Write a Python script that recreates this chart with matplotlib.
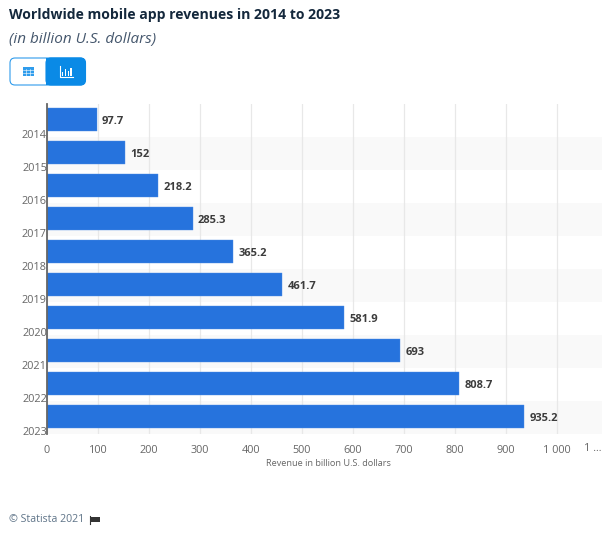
import matplotlib
matplotlib.use("Agg")
import matplotlib.pyplot as plt
from matplotlib.patches import FancyBboxPatch, Rectangle

years = ["2014", "2015", "2016", "2017", "2018", "2019", "2020", "2021", "2022", "2023"]
revenues = [97.7, 152, 218.2, 285.3, 365.2, 461.7, 581.9, 693, 808.7, 935.2]
value_labels = ["97.7", "152", "218.2", "285.3", "365.2", "461.7", "581.9", "693", "808.7", "935.2"]
x_ticks = [0, 100, 200, 300, 400, 500, 600, 700, 800, 900, 1000]
x_tick_labels = ["0", "100", "200", "300", "400", "500", "600", "700", "800", "900", "1 000"]

W, H = 602, 533
plt.rcParams["font.family"] = ["Open Sans", "DejaVu Sans"]


def px_rect(left, top, right, bottom):
    # pixel box of the picture -> figure fractions
    return [left / W, 1 - bottom / H, (right - left) / W, (bottom - top) / H]


fig = plt.figure(figsize=(W / 100, H / 100), dpi=100)
ax = fig.add_axes(px_rect(47, 104, 602, 434))
ax.set_xlim(0, 555 / 0.51)
ax.set_ylim(9.5, -0.5)

# alternating bands
for i in range(1, len(years), 2):
    ax.axhspan(i - 0.5, i + 0.5, color="#f9f9f9", lw=0, zorder=0)

ax.set_axisbelow(True)
ax.grid(True, axis="x", color="#e8e8e8", lw=0.9)

# bars sit about a pixel above the band centre
rows = [i - 0.04 for i in range(len(years))]
ax.barh(rows, revenues, height=0.7, color="#2673dd", edgecolor="#4d8fe6", lw=0.3, zorder=2)

for i, v in enumerate(revenues):
    ax.annotate(value_labels[i], (v, i), xytext=(3.8, -0.5), textcoords="offset points",
                va="center", fontsize=8, fontweight="bold", color="#3c3c3c")

ax.set_yticks([i + 0.41 for i in range(len(years))], years, fontsize=7.8, color="#666666")
ax.set_xticks(x_ticks, x_tick_labels, fontsize=7.8, color="#666666")
ax.tick_params(axis="both", length=0)
ax.tick_params(axis="x", pad=7.6)
ax.tick_params(axis="y", pad=0)
ax.text(1070, -0.045, "1 ...", transform=ax.get_xaxis_transform(), ha="center", va="center",
        fontsize=7.8, color="#666666")
for side in ["top", "right", "bottom"]:
    ax.spines[side].set_visible(False)
ax.spines["left"].set_color("#666666")
ax.spines["left"].set_linewidth(1.3)

fig.text(328 / W, 1 - 464 / H, "Revenue in billion U.S. dollars", ha="center", va="center",
         fontsize=6.6, color="#666666")

# title block
fig.text(9 / W, 1 - 15 / H, "Worldwide mobile app revenues in 2014 to 2023", va="center",
         fontsize=10.1, fontweight="bold", color="#14283c")
fig.text(9 / W, 1 - 39 / H, "(in billion U.S. dollars)", va="center", fontsize=11,
         style="italic", color="#44566c")

# table / chart toggle
overlay = fig.add_axes([0, 0, 1, 1], zorder=5)
overlay.set_xlim(0, W)
overlay.set_ylim(H, 0)
overlay.axis("off")
overlay.add_patch(FancyBboxPatch((10, 58), 75, 27, boxstyle="round,pad=0,rounding_size=5",
                                 fc="white", ec="#2f9cec", lw=0.8))
overlay.add_patch(FancyBboxPatch((46, 58), 39.5, 27, boxstyle="round,pad=0,rounding_size=5",
                                 fc="#0a8ae6", ec="#0a8ae6", lw=0.8))
overlay.add_patch(Rectangle((46, 58), 6, 27, fc="#0a8ae6", ec="none"))

# grid icon
overlay.add_patch(Rectangle((22.5, 67), 11, 9, fc="#2f9cec", ec="none"))
for gx in [26.2, 29.8]:
    overlay.plot([gx, gx], [68.5, 76], color="white", lw=0.4)
for gy in [70.3, 73]:
    overlay.plot([22.5, 33.5], [gy, gy], color="white", lw=0.4)

# bar icon
overlay.plot([59.5, 59.5, 73], [66, 76.5, 76.5], color="white", lw=0.8)
for bx, btop in zip([61.5, 64.5, 67.5, 70.3], [72, 69, 71, 68]):
    overlay.add_patch(Rectangle((bx, btop), 1.8, 75.5 - btop, fc="white", ec="none"))

# footer
fig.text(9 / W, 1 - 520 / H, "© Statista 2021", va="center", fontsize=7.7, color="#5f7488")
overlay.plot([90, 90], [516, 524], color="#333333", lw=0.8)
overlay.add_patch(Rectangle((90.5, 516.5), 9, 5, fc="#333333", ec="none"))

fig.savefig("out.png", dpi=100)
